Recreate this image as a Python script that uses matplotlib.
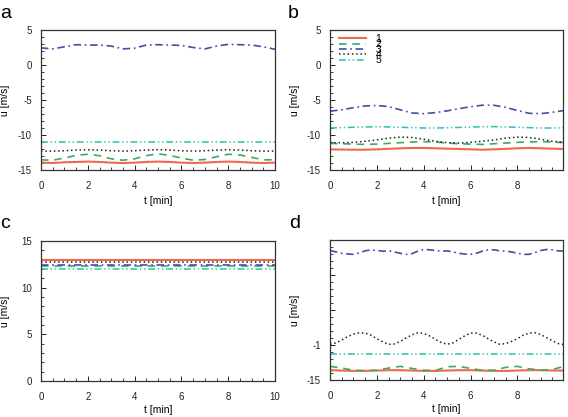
import matplotlib
matplotlib.use("Agg")
import matplotlib.pyplot as plt
from matplotlib.ticker import MultipleLocator, FixedLocator, FixedFormatter

plt.rcParams['font.family'] = ['Liberation Sans', 'DejaVu Sans']
plt.rcParams['axes.unicode_minus'] = False

# ---------------- data ----------------
t = [0, 0.5, 1, 1.5, 2, 2.5, 3, 3.5, 4, 4.5, 5, 5.5, 6, 6.5, 7, 7.5, 8, 8.5, 9, 9.5, 10]
t_fine = [0, 0.25, 0.5, 0.75, 1, 1.25, 1.5, 1.75, 2, 2.25, 2.5, 2.75, 3, 3.25, 3.5, 3.75,
          4, 4.25, 4.5, 4.75, 5, 5.25, 5.5, 5.75, 6, 6.25, 6.5, 6.75, 7, 7.25, 7.5, 7.75,
          8, 8.25, 8.5, 8.75, 9, 9.25, 9.5, 9.75, 10]
labels = ["1", "2", "3", "4", "5"]

# panel a
a1 = [-13.95, -14.0, -13.9, -13.85, -13.8, -13.85, -13.95, -14.0, -13.95, -13.85, -13.8,
      -13.85, -13.95, -14.0, -13.95, -13.85, -13.8, -13.85, -13.95, -14.0, -13.95]
a2 = [-13.55, -13.6, -13.3, -12.9, -12.75, -12.95, -13.4, -13.6, -13.4, -12.95, -12.7,
      -12.9, -13.3, -13.6, -13.5, -13.1, -12.75, -12.85, -13.2, -13.55, -13.55]
a3 = [2.45, 2.3, 2.6, 2.9, 2.85, 2.85, 2.7, 2.3, 2.4, 2.85, 2.9,
      2.85, 2.8, 2.5, 2.3, 2.7, 2.95, 2.9, 2.85, 2.6, 2.25]
a4 = [-12.3, -12.3, -12.25, -12.15, -12.1, -12.15, -12.25, -12.3, -12.25, -12.15, -12.1,
      -12.15, -12.25, -12.3, -12.25, -12.15, -12.1, -12.15, -12.25, -12.3, -12.3]
a5 = [-10.95] * 21

# panel b
b1 = [-12.05, -12.08, -12.1, -12.1, -12.05, -11.98, -11.9, -11.85, -11.85, -11.9, -11.95,
      -12.0, -12.05, -12.1, -12.05, -11.98, -11.9, -11.85, -11.9, -11.95, -12.0]
b2 = [-11.2, -11.25, -11.3, -11.35, -11.3, -11.2, -11.1, -11.0, -10.95, -11.0, -11.15,
      -11.25, -11.3, -11.35, -11.25, -11.15, -11.05, -10.98, -10.95, -11.0, -11.1]
b3 = [-6.6, -6.4, -6.1, -5.85, -5.78, -5.95, -6.4, -6.85, -6.95, -6.8, -6.55,
      -6.25, -5.95, -5.75, -5.75, -6.05, -6.5, -6.9, -6.95, -6.75, -6.5]
b4 = [-11.1, -11.1, -11.05, -10.9, -10.7, -10.45, -10.3, -10.35, -10.6, -10.9, -11.1,
      -11.15, -11.05, -10.9, -10.7, -10.45, -10.3, -10.35, -10.6, -10.9, -11.05]
b5 = [-9.0, -8.95, -8.9, -8.85, -8.82, -8.85, -8.9, -8.95, -9.0, -9.0, -8.97,
      -8.92, -8.87, -8.82, -8.8, -8.85, -8.9, -8.95, -9.0, -9.0, -8.98]

# panel c
c1 = [12.95] * 21
c2 = [12.35] * 21
c3 = [12.45] * 21
c4 = [12.72] * 21
c5 = [12.0] * 21

# panel d
d1 = [-13.6, -13.65, -13.7, -13.7, -13.65, -13.6, -13.6, -13.65, -13.7, -13.7, -13.65,
      -13.6, -13.6, -13.65, -13.7, -13.7, -13.65, -13.6, -13.6, -13.65, -13.65]
d2 = [-13.05, -13.3, -13.6, -13.65, -13.6, -13.3, -13.05, -13.35, -13.6, -13.65, -13.1,
      -13.05, -13.35, -13.6, -13.6, -13.2, -13.05, -13.4, -13.6, -13.5, -13.05]
d3 = [3.5, 3.3, 3.1, 3.0, 2.95, 3.15, 3.45, 3.6, 3.5, 3.4, 3.45, 3.3, 3.1, 2.95, 3.05,
      3.4, 3.65, 3.6, 3.5, 3.4, 3.45, 3.3, 3.1, 3.0, 2.95, 3.1, 3.4, 3.6, 3.6, 3.45,
      3.4, 3.3, 3.1, 2.95, 2.95, 3.2, 3.5, 3.65, 3.6, 3.45, 3.4]
d4 = [-9.9, -9.7, -9.3, -8.8, -8.45, -8.25, -8.3, -8.6, -9.1, -9.55, -9.9, -9.85, -9.5,
      -9.0, -8.55, -8.25, -8.35, -8.7, -9.2, -9.65, -9.9, -9.7, -9.2, -8.7, -8.3, -8.3,
      -8.6, -9.1, -9.55, -9.9, -9.8, -9.5, -9.1, -8.6, -8.3, -8.25, -8.5, -8.95, -9.4,
      -9.8, -9.95]
d5 = [-11.35] * 21

# ---------------- style ----------------
colors = ['#EE6A4D', '#3DAA5C', '#3F4FA8', '#222222', '#2EC0B0']
styles = [dict(ls='-', lw=1.5),
          dict(ls=(0, (4.5, 3.5)), lw=1.2),
          dict(ls=(0, (4.5, 2.2, 1.0, 2.2)), lw=1.2),
          dict(ls=(0, (1, 1.8)), lw=1.1),
          dict(ls=(0, (4.5, 1.8, 0.9, 1.8, 0.9, 1.8)), lw=1.1)]

W, H = 568, 417
fig = plt.figure(figsize=(W / 100, H / 100), dpi=100)

def add_ax(l, t_, r, b):
    return fig.add_axes([l / W, 1 - b / H, (r - l) / W, (b - t_) / H])

axA = add_ax(41, 30, 275, 170)
axB = add_ax(330, 30, 563, 170)
axC = add_ax(41, 241, 275, 381)
axD = add_ax(330, 240, 563, 380)

panels = [
    (axA, [(t, a1), (t, a2), (t, a3), (t, a4), (t, a5)], 10),
    (axB, [(t, b1), (t, b2), (t, b3), (t, b4), (t, b5)], 9.95),
    (axC, [(t, c1), (t, c2), (t, c3), (t, c4), (t, c5)], 10),
    (axD, [(t, d1), (t, d2), (t_fine, d3), (t_fine, d4), (t, d5)], 9.95),
]

for ax, series, xmax in panels:
    for i, (x, y) in enumerate(series):
        ax.plot(x, y, color=colors[i], label=labels[i], **styles[i])
    ax.set_xlim(0, xmax)
    ax.xaxis.set_major_locator(MultipleLocator(2))
    ax.xaxis.set_minor_locator(MultipleLocator(0.5))
    ax.tick_params(which='both', direction='in', top=False, right=False,
                   labelsize=7, colors='#222222')
    ax.tick_params(which='major', length=3.5, width=0.7)
    ax.tick_params(which='minor', length=2, width=0.6)
    ax.tick_params(axis='x', pad=8)
    ax.tick_params(axis='y', pad=6.5)
    for sp in ax.spines.values():
        sp.set_linewidth(0.9)
        sp.set_color('#333333')
    ax.set_xlabel('t [min]', fontsize=7.5)
    ax.set_ylabel('u [m/s]', fontsize=7.5)

for ax in (axA, axB):
    ax.set_ylim(-15, 5)
    ax.yaxis.set_major_locator(MultipleLocator(5))
    ax.yaxis.set_minor_locator(MultipleLocator(1))

axC.set_ylim(0, 15)
axC.yaxis.set_major_locator(MultipleLocator(5))
axC.yaxis.set_minor_locator(MultipleLocator(1))

axD.set_ylim(-15, 5)
axD.yaxis.set_major_locator(FixedLocator([-15, -10, -5, 0, 5]))
axD.yaxis.set_major_formatter(FixedFormatter(['-15', '-1', '', '', '']))
axD.yaxis.set_minor_locator(MultipleLocator(1))

for ax in (axA, axC):
    ax.xaxis.set_label_coords(0.5, -0.185)
    ax.yaxis.set_label_coords(-0.132, 0.5)
for ax in (axB, axD):
    ax.xaxis.set_label_coords(0.5, -0.185)
    ax.yaxis.set_label_coords(-0.129, 0.5)
axC.xaxis.set_label_coords(0.5, -0.17)
axD.xaxis.set_label_coords(0.5, -0.17)

leg = axB.legend(loc='upper left', bbox_to_anchor=(9 / 233, 1 - 4 / 140),
                 frameon=False, fontsize=7.5, handlelength=2.6, handletextpad=0.9,
                 labelspacing=-0.45, borderpad=0, borderaxespad=0)

fig.text(0 / W, 1 - 13 / H, 'a', fontsize=14, va='center', ha='left')
fig.text(288 / W, 1 - 14 / H, 'b', fontsize=14, va='center', ha='left')
fig.text(0 / W, 1 - 224 / H, 'c', fontsize=14, va='center', ha='left')
fig.text(289 / W, 1 - 223 / H, 'd', fontsize=14, va='center', ha='left')

fig.savefig('out.png', dpi=100)
